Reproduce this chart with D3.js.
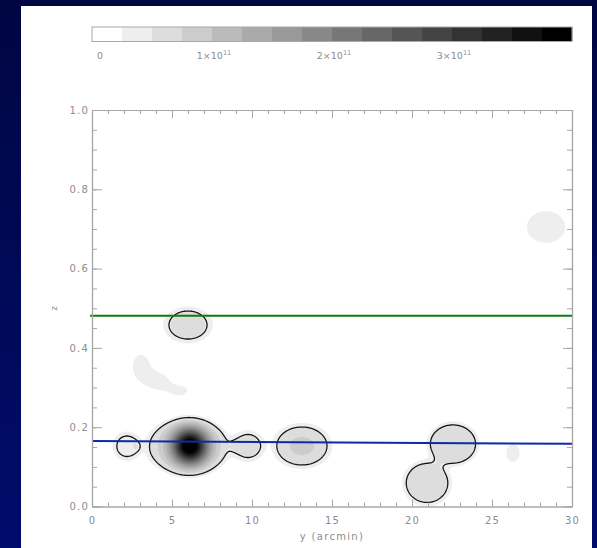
<!DOCTYPE html>
<html>
<head>
<meta charset="utf-8">
<script src="https://cdn.jsdelivr.net/npm/d3@7"></script>
<style>
  html, body { margin: 0; padding: 0; background: #000845; }
  svg { display: block; }
  text { font-family: "DejaVu Sans", "Liberation Sans", Arial, sans-serif; }
</style>
</head>
<body>
<svg id="chart" width="597" height="548"></svg>
<script>
// ---- axes ----
const yDomain = [0, 30];                 // y (arcmin)
const zDomain = [0, 1];                  // z
const xMajorTicks = [0, 5, 10, 15, 20, 25, 30];
const xMinorTicks = d3.range(0, 31, 1);
const zMajorTicks = [0, 0.2, 0.4, 0.6, 0.8, 1.0];
const zMinorTicks = d3.range(0, 1.0001, 0.05);
const xLabel = "y (arcmin)";
const zLabel = "z";

// ---- colour bar (surface density) ----
const densityUnit = 1e11;
const colorLevels = 16;
const levelStep = 0.25;                  // in units of 1e11
const colorbarTicks = [0, 1, 2, 3];      // in units of 1e11
const colorbarMantissa = ["0", "1\u00d710", "2\u00d710", "3\u00d710"];
const colorbarExponent = ["", "11", "11", "11"];

// ---- density clumps: centre (y, z), peak (1e11), widths (y, z), profile exponent ----
const clumpY     = [2.19, 6.00, 6.12, 9.75, 13.12, 22.56, 20.94, 26.31, 28.38, 6.00, 3.06, 4.19, 5.50];
const clumpZ     = [0.152, 0.151, 0.152, 0.1526, 0.1526, 0.1576, 0.0593, 0.135, 0.705, 0.4577, 0.354, 0.316, 0.292];
const clumpPeak  = [0.49, 0.72, 3.60, 0.57, 0.77, 0.75, 0.68, 0.33, 0.40, 0.62, 0.36, 0.35, 0.32];
const clumpSigY  = [0.86, 2.406, 0.75, 0.92, 1.54, 1.406, 1.35, 0.54, 1.20, 1.33, 0.56, 0.66, 0.60];
const clumpSigZ  = [0.0348, 0.065, 0.030, 0.035, 0.047, 0.048, 0.051, 0.029, 0.0397, 0.0395, 0.033, 0.021, 0.0135];
const clumpShape = [6, 6, 2, 4, 4, 5, 5, 2, 4, 4, 2, 2, 2];
const contourLevel = 0.45;               // in units of 1e11

// ---- overlaid lines ----
const greenLineY = [-0.12, 30], greenLineZ = [0.481, 0.481];
const blueLineY  = [0.05, 30],  blueLineZ  = [0.165, 0.158];

// ---- layout ----
const W = 597, H = 548;
const plot = { left: 92, right: 572, top: 110, bottom: 506.5 };
const cbar = { top: 27, height: 14.5 };

const svg = d3.select("#chart");
const defs = svg.append("defs");
const grad = defs.append("linearGradient").attr("id", "bg").attr("x1", 0).attr("y1", 0).attr("x2", 0).attr("y2", 1);
grad.append("stop").attr("offset", "0%").attr("stop-color", "#000642");
grad.append("stop").attr("offset", "100%").attr("stop-color", "#000c6c");
svg.append("rect").attr("width", W).attr("height", H).attr("fill", "url(#bg)");
svg.append("rect").attr("x", 21).attr("y", 6).attr("width", 571).attr("height", H - 6).attr("fill", "#ffffff");

const x = d3.scaleLinear().domain(yDomain).range([plot.left, plot.right]);
const z = d3.scaleLinear().domain(zDomain).range([plot.bottom, plot.top]);
const grey = d3.scaleLinear().domain([0, colorLevels - 1]).range(["#ffffff", "#000000"]);
const axisColor = "#a8a8a8", labelColor = "#8c8c8c";

// ---- colour bar ----
const cb = d3.scaleLinear().domain([0, colorLevels * levelStep]).range([plot.left, plot.right]);
const cbG = svg.append("g");
cbG.selectAll("rect.lvl").data(d3.range(colorLevels)).join("rect")
  .attr("class", "lvl")
  .attr("x", i => cb(i * levelStep))
  .attr("width", i => cb((i + 1) * levelStep) - cb(i * levelStep) + 0.3)
  .attr("y", cbar.top).attr("height", cbar.height)
  .attr("fill", i => grey(i));
cbG.append("rect").attr("x", plot.left).attr("y", cbar.top)
  .attr("width", plot.right - plot.left).attr("height", cbar.height)
  .attr("fill", "none").attr("stroke", axisColor).attr("stroke-width", 1);
const cbLab = cbG.selectAll("text").data(colorbarTicks).join("text")
  .attr("x", (d, i) => i === 0 ? cb(d) + 5 : cb(d) + 2)
  .attr("y", cbar.top + cbar.height + 17)
  .attr("text-anchor", (d, i) => i === 0 ? "start" : "middle")
  .attr("font-size", 9.5).attr("fill", labelColor);
cbLab.append("tspan").text((d, i) => colorbarMantissa[i]);
cbLab.append("tspan").attr("dy", -4).attr("font-size", 6.5).text((d, i) => colorbarExponent[i]);

// ---- density field on a grid ----
const nx = 480, ny = 400;
const values = new Float64Array(nx * ny);
for (let j = 0; j < ny; j++) {
  const zz = zDomain[0] + (j + 0.5) / ny * (zDomain[1] - zDomain[0]);
  for (let i = 0; i < nx; i++) {
    const yy = yDomain[0] + (i + 0.5) / nx * (yDomain[1] - yDomain[0]);
    let v = 0;
    for (let k = 0; k < clumpY.length; k++) {
      const dy = (yy - clumpY[k]) / clumpSigY[k];
      const dz = (zz - clumpZ[k]) / clumpSigZ[k];
      const q2 = dy * dy + dz * dz;
      if (q2 > 60) continue;
      v += clumpPeak[k] * Math.exp(-0.5 * Math.pow(q2, clumpShape[k] / 2));
    }
    values[j * nx + i] = v * densityUnit;
  }
}

const gridPath = d3.geoPath(d3.geoTransform({
  point: function (gx, gy) {
    this.stream.point(
      x(yDomain[0] + gx / nx * (yDomain[1] - yDomain[0])),
      z(zDomain[0] + gy / ny * (zDomain[1] - zDomain[0])));
  }
}));

defs.append("clipPath").attr("id", "plotclip").append("rect")
  .attr("x", plot.left).attr("y", plot.top)
  .attr("width", plot.right - plot.left).attr("height", plot.bottom - plot.top);

const mapG = svg.append("g").attr("clip-path", "url(#plotclip)");
const bandThresholds = d3.range(1, colorLevels).map(i => i * levelStep * densityUnit);
const bands = d3.contours().size([nx, ny]).thresholds(bandThresholds)(values);
mapG.selectAll("path.band").data(bands).join("path")
  .attr("class", "band")
  .attr("d", gridPath)
  .attr("fill", (d, i) => grey(i + 1))
  .attr("stroke", (d, i) => grey(i + 1))
  .attr("stroke-width", 0.4);

const line0 = d3.contours().size([nx, ny]).thresholds([contourLevel * densityUnit])(values);
mapG.selectAll("path.iso").data(line0).join("path")
  .attr("class", "iso")
  .attr("d", gridPath)
  .attr("fill", "none").attr("stroke", "#151515").attr("stroke-width", 1.3);

// ---- lines ----
const lineGen = d3.line().x(d => x(d[0])).y(d => z(d[1]));
svg.append("path").datum(d3.zip(greenLineY, greenLineZ)).attr("d", lineGen)
  .attr("fill", "none").attr("stroke", "#117a11").attr("stroke-width", 2);
svg.append("path").datum(d3.zip(blueLineY, blueLineZ)).attr("d", lineGen)
  .attr("fill", "none").attr("stroke", "#0c2aa6").attr("stroke-width", 2);

// ---- axes ----
function styleAxis(g) {
  g.selectAll("path.domain").attr("stroke", axisColor).attr("stroke-width", 1.2);
  g.selectAll("line").attr("stroke", axisColor).attr("stroke-width", 1);
  g.selectAll("text").attr("fill", labelColor).attr("font-size", 10)
    .attr("letter-spacing", 1.2)
    .attr("font-family", "DejaVu Sans, Liberation Sans, Arial, sans-serif");
}
const noLabel = () => "";
svg.append("g").attr("transform", `translate(0,${plot.bottom})`)
  .call(d3.axisBottom(x).tickValues(xMinorTicks).tickSize(-4).tickSizeOuter(0).tickFormat(noLabel)).call(styleAxis);
svg.append("g").attr("transform", `translate(0,${plot.bottom})`)
  .call(d3.axisBottom(x).tickValues(xMajorTicks).tickSize(-7).tickSizeOuter(0).tickPadding(10).tickFormat(d3.format("d"))).call(styleAxis);
svg.append("g").attr("transform", `translate(0,${plot.top})`)
  .call(d3.axisTop(x).tickValues(xMinorTicks).tickSize(-4).tickSizeOuter(0).tickFormat(noLabel)).call(styleAxis);
svg.append("g").attr("transform", `translate(0,${plot.top})`)
  .call(d3.axisTop(x).tickValues(xMajorTicks).tickSize(-8).tickSizeOuter(0).tickFormat(noLabel)).call(styleAxis);
svg.append("g").attr("transform", `translate(${plot.left},0)`)
  .call(d3.axisLeft(z).tickValues(zMinorTicks).tickSize(-5).tickSizeOuter(0).tickFormat(noLabel)).call(styleAxis);
svg.append("g").attr("transform", `translate(${plot.left},0)`)
  .call(d3.axisLeft(z).tickValues(zMajorTicks).tickSize(-10).tickSizeOuter(0).tickPadding(3).tickFormat(d3.format(".1f"))).call(styleAxis);
svg.append("g").attr("transform", `translate(${plot.right},0)`)
  .call(d3.axisRight(z).tickValues(zMinorTicks).tickSize(-5).tickSizeOuter(0).tickFormat(noLabel)).call(styleAxis);
svg.append("g").attr("transform", `translate(${plot.right},0)`)
  .call(d3.axisRight(z).tickValues(zMajorTicks).tickSize(-9).tickSizeOuter(0).tickFormat(noLabel)).call(styleAxis);

svg.append("text").attr("x", (plot.left + plot.right) / 2).attr("y", 540)
  .attr("text-anchor", "middle").attr("font-size", 10).attr("letter-spacing", 1.3)
  .attr("fill", labelColor).text(xLabel);
svg.append("text").attr("transform", `translate(57,${(plot.top + plot.bottom) / 2}) rotate(-90)`)
  .attr("text-anchor", "middle").attr("font-size", 8.5).attr("fill", labelColor).text(zLabel);
</script>
</body>
</html>
